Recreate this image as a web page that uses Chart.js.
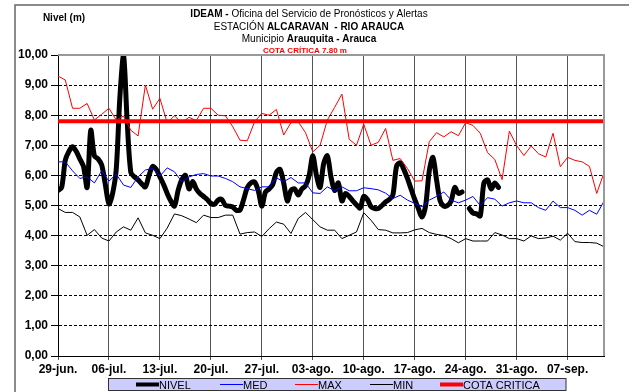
<!DOCTYPE html>
<html lang="es">
<head>
<meta charset="UTF-8">
<title>Nivel Río Arauca - Estación Alcaravan</title>
<script src="https://cdn.jsdelivr.net/npm/chart.js"></script>
<style>
    html, body {
        margin: 0;
        padding: 0;
        background: #fff;
    }
    #contenedor {
        width: 629px;
        height: 392px;
    }
</style>
</head>
<body>

<div id="contenedor">
    <canvas id="grafico" width="629" height="392"></canvas>
</div>

<script>
// Días del eje (0 = 29-jun) y sus etiquetas
const diasEje = [0, 7, 14, 21, 28, 35, 42, 49, 56, 63, 70];
const etiquetasEje = ["29-jun.", "06-jul.", "13-jul.", "20-jul.", "27-jul.", "03-ago.", "10-ago.", "17-ago.", "24-ago.", "31-ago.", "07-sep."];
const ultimoDia = 75; // 12-sep

// Valores diarios históricos (29-jun a 12-sep)
const med = [
    6.45, 6.45, 6.15, 5.90, 5.95, 5.75, 6.15, 5.81, 6.04, 5.68,
    5.60, 5.95, 6.18, 6.23, 5.98, 6.25, 6.12, 5.79, 5.95, 6.03,
    6.06, 5.98, 5.98, 5.90, 5.79, 5.62, 5.56, 5.50, 5.62, 5.62,
    5.92, 5.79, 5.93, 5.75, 5.75, 5.42, 5.40, 5.62, 5.49, 5.62,
    5.49, 5.49, 5.59, 5.56, 5.52, 5.41, 5.23, 5.34, 5.18, 5.07,
    4.96, 5.18, 5.30, 5.45, 5.18, 5.09, 5.18, 5.30, 5.00, 5.26,
    5.21, 4.98, 5.09, 5.15, 5.09, 5.09, 4.93, 4.84, 5.15, 4.93,
    4.93, 4.84, 4.68, 4.84, 4.71, 5.14
];
const max = [
    9.30, 9.17, 8.23, 8.23, 8.39, 7.84, 8.03, 8.23, 7.84, 7.97,
    7.50, 7.31, 9.00, 8.20, 8.56, 7.75, 7.98, 7.75, 7.93, 7.82,
    8.23, 8.23, 8.00, 7.98, 7.62, 7.17, 7.15, 7.78, 8.06, 8.00,
    8.19, 7.34, 7.75, 7.78, 7.42, 6.78, 7.00, 7.84, 8.26, 8.70,
    7.20, 7.00, 7.70, 7.00, 7.10, 7.56, 6.50, 6.56, 6.23, 5.81,
    5.82, 7.12, 7.42, 7.28, 7.45, 7.32, 7.75, 7.66, 7.40, 6.76,
    6.53, 5.86, 7.47, 6.99, 6.66, 6.98, 6.72, 6.61, 7.40, 6.29,
    6.60, 6.50, 6.45, 6.30, 5.40, 6.09
];
const min = [
    4.90, 4.77, 4.77, 4.62, 4.01, 4.20, 3.92, 3.82, 4.12, 4.29,
    4.18, 4.59, 4.09, 4.01, 3.90, 4.25, 4.72, 4.66, 4.55, 4.43,
    4.68, 4.60, 4.60, 4.68, 4.68, 4.05, 4.10, 4.12, 3.97, 4.23,
    4.45, 4.38, 4.07, 4.57, 4.77, 4.53, 4.29, 4.18, 4.18, 3.90,
    4.01, 4.12, 4.76, 4.51, 4.20, 4.18, 4.09, 4.09, 4.10, 4.19,
    4.24, 4.10, 4.04, 4.00, 3.90, 3.76, 3.90, 3.82, 3.82, 3.82,
    4.10, 4.02, 3.90, 3.90, 3.82, 3.99, 3.90, 3.92, 3.98, 3.85,
    4.08, 3.80, 3.77, 3.77, 3.75, 3.63
];

// Nivel observado, dos lecturas por día (cada 0.5 día desde 29-jun)
const nivel = [
    5.50, 5.60, 6.50, 6.80, 6.95, 6.80, 6.55, 6.30, 5.60, 7.50,
    6.65, 6.55, 6.35, 5.70, 5.05, 5.40, 6.20, 8.60, 10.00, 7.80,
    6.10, 5.95, 5.85, 5.72, 5.62, 6.00, 6.30, 6.20, 5.95, 5.70,
    5.40, 5.15, 4.98, 5.50, 5.85, 6.00, 5.55, 5.80, 5.55, 5.40,
    5.30, 5.20, 5.07, 5.04, 5.18, 5.20, 5.00, 4.98, 4.95, 4.84,
    4.85, 5.20, 5.60, 5.75, 5.78, 5.50, 4.98, 5.45, 5.55, 5.70,
    6.10, 6.20, 5.75, 5.15, 5.50, 5.55, 5.35, 5.55, 5.65, 6.00,
    6.65, 6.00, 5.60, 6.40, 6.65, 5.95, 5.50, 5.75, 5.15, 5.40,
    5.30, 5.15, 5.02, 4.92, 5.30, 5.20, 4.96, 4.90, 4.90, 5.00,
    5.12, 5.20, 5.35, 6.30, 6.42, 6.20, 5.90, 5.55, 5.20, 4.90,
    4.62, 5.00, 6.15, 6.60, 5.85, 5.15, 4.98, 5.00, 5.15, 5.60,
    5.40, 5.45, null, 4.90, 4.75, 4.72, 4.65, 5.75, 5.85, 5.55,
    5.75, 5.60
];

const cotaCritica = 7.80;

const fuente = 'Arial, "Liberation Sans", sans-serif';

// Puntos {x, y} a partir de las listas
const diarios = arr => arr.map((v, i) => ({ x: i, y: v }));
const medioDia = arr => arr.map((v, i) => ({ x: i / 2, y: v }));

// Dibuja una línea de texto con tramos en negrita y normales, centrada
function textoMixto(ctx, tramos, cx, y, size, color) {
    let total = 0;
    tramos.forEach(t => {
        ctx.font = (t.b ? 'bold ' : '') + size + 'px ' + fuente;
        t.w = ctx.measureText(t.s).width;
        total += t.w;
    });
    let x = cx - total / 2;
    ctx.fillStyle = color;
    ctx.textAlign = 'left';
    ctx.textBaseline = 'alphabetic';
    tramos.forEach(t => {
        ctx.font = (t.b ? 'bold ' : '') + size + 'px ' + fuente;
        ctx.fillText(t.s, x, y);
        x += t.w;
    });
}

const decoracion = {
    id: 'decoracion',
    beforeDraw(chart) {
        const ctx = chart.ctx;
        ctx.save();
        ctx.fillStyle = '#fff';
        ctx.fillRect(0, 0, chart.width, chart.height);
        ctx.restore();
    },
    afterDraw(chart) {
        const ctx = chart.ctx;
        const a = chart.chartArea;
        ctx.save();

        // marco exterior
        ctx.strokeStyle = '#666';
        ctx.lineWidth = 1.5;
        ctx.beginPath();
        ctx.moveTo(15, chart.height);
        ctx.lineTo(15, 5);
        ctx.lineTo(chart.width, 5);
        ctx.stroke();

        // borde superior y derecho del área de trazado
        ctx.strokeStyle = '#999';
        ctx.lineWidth = 2;
        ctx.beginPath();
        ctx.moveTo(a.left, a.top);
        ctx.lineTo(a.right, a.top);
        ctx.lineTo(a.right, a.bottom);
        ctx.stroke();

        // títulos
        textoMixto(ctx, [{ s: 'IDEAM - ', b: true }, { s: 'Oficina del Servicio de Pronósticos y Alertas' }], 309, 17, 10, '#000');
        textoMixto(ctx, [{ s: 'ESTACIÓN ' }, { s: 'ALCARAVAN  - RIO ARAUCA', b: true }], 309, 30, 10, '#000');
        textoMixto(ctx, [{ s: 'Municipio ' }, { s: 'Arauquita - Arauca', b: true }], 309, 42, 10, '#000');
        textoMixto(ctx, [{ s: 'COTA CRÍTICA 7.80 m', b: true }], 305, 53, 8, '#ff0000');
        textoMixto(ctx, [{ s: 'Nivel (m)', b: true }], 64, 21, 10, '#000');

        // leyenda
        ctx.fillStyle = '#ccccff';
        ctx.fillRect(108, 378.5, 458, 12);
        ctx.strokeStyle = '#333';
        ctx.lineWidth = 1;
        ctx.strokeRect(108.5, 378.5, 457.5, 12);
        const posLeyenda = [136, 220, 295, 370, 440];
        chart.data.datasets.forEach((ds, i) => {
            const x = posLeyenda[i];
            ctx.strokeStyle = ds.borderColor;
            ctx.lineWidth = Math.min(ds.borderWidth, 4);
            ctx.beginPath();
            ctx.moveTo(x, 384.5);
            ctx.lineTo(x + 23, 384.5);
            ctx.stroke();
            ctx.fillStyle = '#000';
            ctx.font = '11px ' + fuente;
            ctx.textAlign = 'left';
            ctx.textBaseline = 'alphabetic';
            ctx.fillText(ds.label, x + 23, 389);
        });
        ctx.restore();
    }
};

const ctx = document.getElementById('grafico').getContext('2d');

new Chart(ctx, {
    type: 'line',
    data: {
        datasets: [
            {
                label: 'NIVEL',
                data: medioDia(nivel),
                borderColor: '#000000',
                borderWidth: 5,
                tension: 0.3,
                spanGaps: false,
                order: 5
            },
            {
                label: 'MED',
                data: diarios(med),
                borderColor: '#0000ff',
                borderWidth: 1,
                order: 4
            },
            {
                label: 'MAX',
                data: diarios(max),
                borderColor: '#ff0000',
                borderWidth: 1,
                order: 3
            },
            {
                label: 'MIN',
                data: diarios(min),
                borderColor: '#000000',
                borderWidth: 1,
                order: 2
            },
            {
                label: 'COTA CRITICA',
                data: [{ x: 0, y: cotaCritica }, { x: ultimoDia, y: cotaCritica }],
                borderColor: '#ff0000',
                borderWidth: 4,
                order: 1
            }
        ]
    },
    options: {
        responsive: false,
        animation: false,
        devicePixelRatio: 1,
        layout: {
            padding: { left: 0, top: 55, right: 25, bottom: 0 }
        },
        elements: {
            point: { radius: 0 },
            line: { tension: 0, borderCapStyle: 'round', borderJoinStyle: 'round' }
        },
        plugins: {
            legend: { display: false },
            tooltip: { enabled: false },
            title: { display: false }
        },
        scales: {
            x: {
                type: 'linear',
                min: 0,
                max: ultimoDia,
                afterBuildTicks: s => { s.ticks = diasEje.map(v => ({ value: v })); },
                afterFit: s => { s.height = 36; },
                grid: { color: '#555', lineWidth: 1, tickLength: 4, tickColor: '#555' },
                border: { display: true, color: '#000', width: 1 },
                ticks: {
                    autoSkip: false,
                    maxRotation: 0,
                    padding: 2,
                    color: '#000',
                    font: { family: fuente, size: 12, weight: 'bold' },
                    callback: (v, i) => etiquetasEje[i]
                }
            },
            y: {
                min: 0,
                max: 10,
                afterFit: s => { s.width = 58; },
                grid: { color: '#000', lineWidth: 1, tickLength: 7, tickColor: '#000' },
                border: { display: true, color: '#000', width: 1, dash: [3, 2] },
                ticks: {
                    stepSize: 1,
                    padding: 3,
                    color: '#000',
                    font: { family: fuente, size: 12, weight: 'bold' },
                    callback: v => v.toFixed(2).replace('.', ',')
                }
            }
        }
    },
    plugins: [decoracion]
});
</script>

</body>
</html>
